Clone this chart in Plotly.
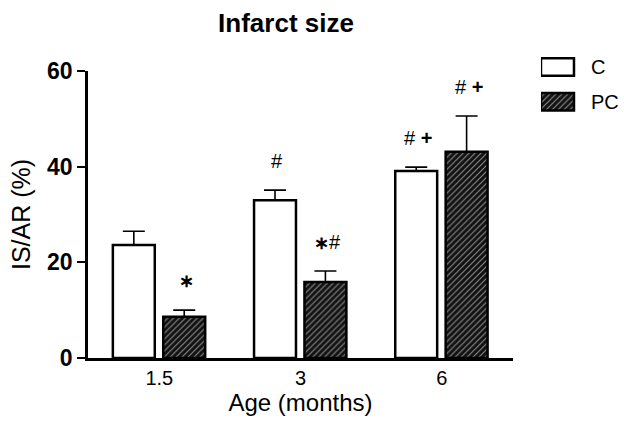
import plotly.graph_objects as go

categories = ["1.5", "3", "6"]
c_mean = [23.6, 33.0, 39.1]
c_sem = [2.9, 2.1, 0.8]
pc_mean = [8.6, 15.9, 43.1]
pc_sem = [1.4, 2.3, 7.5]
STAR = "<span style='font-size:18px'><b>∗</b></span>"
c_marks = ["", "#", "# <b>+</b>"]
pc_marks = [STAR, STAR + "#", "# <b>+</b>"]
legend_labels = ["C", "PC"]

FONT = "Liberation Sans"
x_idx = list(range(len(categories)))

fig = go.Figure()

line = dict(color="black", width=2.5)
hatch = dict(shape="/", fgcolor="white", bgcolor="#111111", size=4.2, solidity=0.28)
err_style = dict(type="data", symmetric=False, arrayminus=[0] * 3, color="black", thickness=1.6, width=11)

BW = 0.297
C_OFF, PC_OFF = -0.329, 0.028

fig.add_trace(go.Bar(
    x=x_idx, y=c_mean, width=BW, offset=C_OFF, name="C",
    marker=dict(color="white", line=line),
    error_y=dict(array=c_sem, **err_style), showlegend=False,
))
fig.add_trace(go.Bar(
    x=x_idx, y=pc_mean, width=BW, offset=PC_OFF, name="PC",
    marker=dict(color="#111111", line=line, pattern=hatch),
    error_y=dict(array=pc_sem, **err_style), showlegend=False,
))

# Legend swatches drawn on an auxiliary axis
fig.add_trace(go.Bar(
    x=[1], y=[1], orientation="h", width=0.5, xaxis="x2", yaxis="y2",
    marker=dict(color="white", line=line), showlegend=False, hoverinfo="skip",
))
fig.add_trace(go.Bar(
    x=[1], y=[0], orientation="h", width=0.5, xaxis="x2", yaxis="y2",
    marker=dict(color="#111111", line=line, pattern=hatch),
    showlegend=False, hoverinfo="skip",
))

annotations = []
for i in x_idx:
    for marks, mean, sem, off in [(c_marks, c_mean, c_sem, C_OFF), (pc_marks, pc_mean, pc_sem, PC_OFF)]:
        if marks[i]:
            annotations.append(dict(x=i + off + BW / 2, y=mean[i] + sem[i], text=marks[i], showarrow=False,
                                    yshift=29, xshift=2, yanchor="middle", xanchor="center",
                                    font=dict(family=FONT, size=20, color="black")))
for lbl, yv in zip(legend_labels, [1, 0]):
    annotations.append(dict(x=1.46, y=yv, xref="x2", yref="y2", text=lbl, showarrow=False,
                            xanchor="left", yanchor="middle",
                            font=dict(family=FONT, size=20, color="black")))

fig.update_layout(
    width=624, height=428,
    margin=dict(l=88, r=0, t=40, b=70, pad=0),
    paper_bgcolor="white", plot_bgcolor="white",
    title=dict(text="<b>Infarct size</b>", x=286 / 624, xref="container", xanchor="center",
               y=1 - 23 / 428, yref="container", yanchor="middle",
               font=dict(family=FONT, size=26, color="black")),
    barmode="overlay",
    xaxis=dict(domain=[0, 0.7929], range=[-0.505, 2.505], tickvals=x_idx, ticktext=categories,
               showline=True, linecolor="black", linewidth=2.5, ticks="", showgrid=False,
               zeroline=False, tickfont=dict(family=FONT, size=20, color="black"),
               title=dict(text="Age (months)", font=dict(family=FONT, size=24, color="black"), standoff=2)),
    yaxis=dict(domain=[0, 0.9025], range=[0, 60], tickvals=[0, 20, 40, 60],
               showline=True, linecolor="black", linewidth=2.5, ticks="outside", ticklen=8,
               tickwidth=2, tickcolor="black", showgrid=False, zeroline=False,
               tickfont=dict(family=FONT, size=23, color="black", weight="bold"),
               title=dict(text="IS/AR (%)", font=dict(family=FONT, size=25, color="black"), standoff=10)),
    xaxis2=dict(domain=[0.8451, 1.0], range=[0, 2.515], anchor="y2", visible=False, fixedrange=True),
    yaxis2=dict(domain=[0.7514, 0.9697], range=[-0.5, 1.5], anchor="x2", visible=False, fixedrange=True),
    annotations=annotations,
)

fig.write_html("out.html", config={"displayModeBar": False},
               post_script="document.body.style.margin='0';document.body.style.padding='0';")
